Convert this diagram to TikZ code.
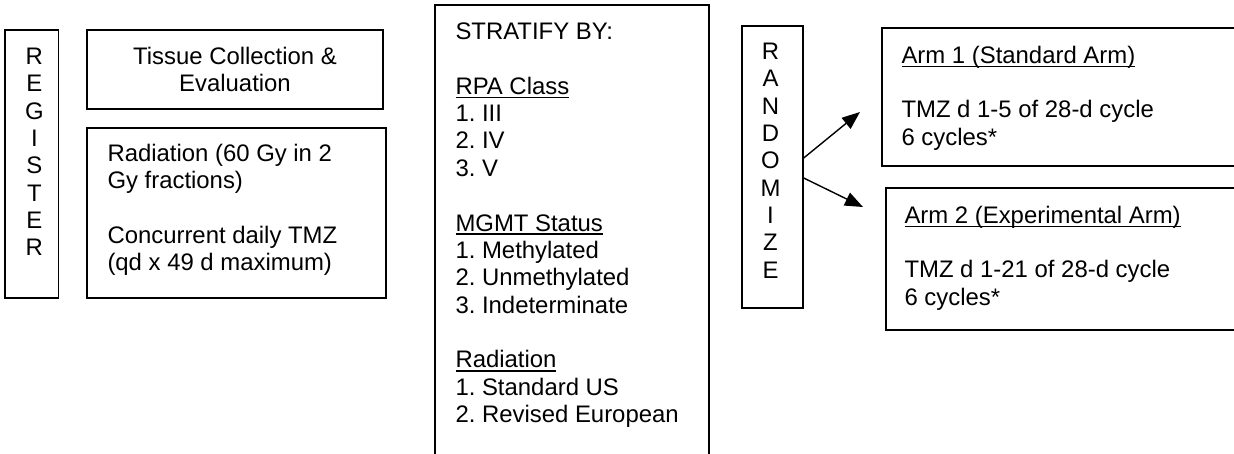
\documentclass[tikz,border=0pt]{standalone}
\usepackage{fontspec}
\setmainfont{Liberation Sans}
\usetikzlibrary{arrows.meta}
\frenchspacing
\newcommand{\undl}[1]{\setbox0\hbox{#1}\rlap{\rule[-3.8pt]{\wd0}{1.4pt}}\box0}
\begin{document}
\begin{tikzpicture}[x=1pt,y=-1pt,
    frame/.style={draw, line width=1.4pt, inner sep=0pt},
    txt/.style={inner sep=0pt, align=left, font=\fontsize{23.9}{27.35}\selectfont},
    arr/.style={line width=1.4pt, -{Triangle[length=18pt,width=14pt]}}]
    \clip (0,0) rectangle (1234,453);

    % Frames
    \node[frame, minimum width=53.7pt, minimum height=268pt] (reg) at (31.85,164) {};
    \node[frame, txt, align=center, minimum width=296pt, minimum height=79pt] (tissue) at (235,69.5) {Tissue Collection \&\\Evaluation};
    \node[frame, minimum width=299pt, minimum height=170pt] (rad) at (236.5,213) {};
    \node[frame, minimum width=274pt, minimum height=465pt] (strat) at (572,237.5) {};
    \node[frame, minimum width=61pt, minimum height=282pt] (rnd) at (772.5,167) {};
    \node[frame, minimum width=378pt, minimum height=138pt] (arm1) at (1071,97) {};
    \node[frame, minimum width=374pt, minimum height=142pt] (arm2) at (1073,259) {};

    % Texts
    \node[txt, align=center, anchor=north] (regtxt) at ([shift={(2.5,18.4)}]reg.north) {R\\E\\G\\I\\S\\T\\E\\R};
    \node[txt, anchor=north west] (radtxt) at ([shift={(21,16.4)}]rad.north west)
        {Radiation (60 Gy in 2\\Gy fractions)\\[27.35pt]Concurrent daily TMZ\\(qd x 49 d maximum)};
    \node[txt, anchor=north west] (strattxt) at ([shift={(21,18.4)}]strat.north west)
        {STRATIFY BY:\\[27.35pt]\undl{RPA Class}\\1. III\\2. IV\\3. V\\[27.35pt]%
         \undl{MGMT Status}\\1. Methylated\\2. Unmethylated\\3. Indeterminate\\[27.35pt]%
         \undl{Radiation}\\1. Standard US\\2. Revised European};
    \node[txt, align=center, anchor=north] (rndtxt) at ([shift={(-2,17.4)}]rnd.north) {R\\A\\N\\D\\O\\M\\I\\Z\\E};
    \node[txt, anchor=north west] (arm1txt) at ([shift={(20,18.4)}]arm1.north west)
        {\undl{Arm 1 (Standard Arm)}\\[27.35pt]TMZ d 1-5 of 28-d cycle\\6 cycles*};
    \node[txt, anchor=north west] (arm2txt) at ([shift={(19,18.4)}]arm2.north west)
        {\undl{Arm 2 (Experimental Arm)}\\[27.35pt]TMZ d 1-21 of 28-d cycle\\6 cycles*};

    % Arrows
    \coordinate (tip1) at (860,112);
    \coordinate (tip2) at (863,207);
    \draw[arr] ([shift={(0,-9)}]rnd.east) -- (tip1);
    \draw[arr] ([shift={(0,11)}]rnd.east) -- (tip2);
\end{tikzpicture}
\end{document}
